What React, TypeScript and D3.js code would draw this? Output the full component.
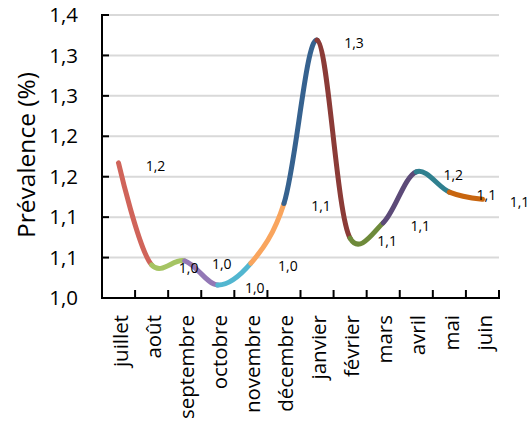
import React from "react";
import * as d3 from "d3";

const months = [
  "juillet", "août", "septembre", "octobre", "novembre", "décembre",
  "janvier", "février", "mars", "avril", "mai", "juin",
];
const prevalence = [1.167, 1.041, 1.046, 1.016, 1.043, 1.117, 1.319, 1.074, 1.093, 1.156, 1.131, 1.122];
const pointLabels = ["1,2", "1,0", "1,0", "1,0", "1,0", "1,1", "1,3", "1,1", "1,1", "1,2", "1,1", "1,1"];
const yTicks = [1.0, 1.05, 1.1, 1.15, 1.2, 1.25, 1.3, 1.35];
const yTickLabels = ["1,0", "1,1", "1,1", "1,2", "1,2", "1,3", "1,3", "1,4"];
// colour of the segment arriving at each month (first month has none)
const segmentColors = [
  "#D0645A", "#A5C463", "#9378B6", "#52B6D0", "#F9A55E",
  "#36628F", "#8B3B37", "#6E8A3A", "#5C4A78", "#2F808F", "#C8650E",
];

const W = 532;
const H = 421;
const left = 102;
const right = 499;
const top = 15;
const bottom = 298;
const font = "'Open Sans', sans-serif";

export default function App() {
  const x = d3.scaleBand<string>().domain(months).range([left, right]);
  const y = d3.scaleLinear().domain([1.0, 1.35]).range([bottom, top]);
  const pts = prevalence.map((v, i) => [x(months[i])! + x.bandwidth() / 2, y(v)] as [number, number]);

  // one smooth curve through all months, cut into its cubic pieces so each can take its own colour
  const full = d3.line().curve(d3.curveCatmullRom.alpha(0.2))(pts) || "";
  const pieces = full.split("C").slice(1);
  const segments = pieces.map((piece, i) => {
    const start = pts[i];
    return { d: `M${start[0]},${start[1]}C${piece}`, color: segmentColors[i] };
  });

  const boundaries = d3.range(months.length + 1).map((k) => left + k * x.step());

  return (
    <svg width={W} height={H} style={{ position: "absolute", left: 0, top: 0 }}>
      <rect width={W} height={H} fill="#fff" />
      {/* gridlines */}
      {yTicks.slice(1).map((t) => (
        <line key={t} x1={left} x2={right} y1={y(t)} y2={y(t)} stroke="#D9D9D9" strokeWidth={2} />
      ))}
      {/* y axis */}
      <line x1={left} x2={left} y1={top - 1} y2={bottom + 1} stroke="#000" strokeWidth={2} />
      {yTicks.map((t, i) => (
        <g key={t}>
          <line x1={left} x2={left + 7} y1={y(t)} y2={y(t)} stroke="#000" strokeWidth={2} />
          <text x={78} y={y(t)} dy="0.35em" textAnchor="end" fontFamily={font} fontSize={20.5} fill="#000">
            {yTickLabels[i]}
          </text>
        </g>
      ))}
      {/* x axis */}
      <line x1={left - 1} x2={right + 1} y1={bottom} y2={bottom} stroke="#000" strokeWidth={2} />
      {boundaries.map((bx, k) => (
        <line key={k} x1={bx} x2={bx} y1={bottom - 8} y2={bottom} stroke="#000" strokeWidth={2} />
      ))}
      {months.map((m) => {
        const cx = x(m)! + x.bandwidth() / 2 + 2;
        return (
          <text
            key={m}
            transform={`translate(${cx},${315}) rotate(-90)`}
            textAnchor="end"
            dy="0.35em"
            fontFamily={font}
            fontSize={20.5}
            fill="#000"
          >
            {m}
          </text>
        );
      })}
      {/* axis title */}
      <text
        transform={`translate(26,${155}) rotate(-90)`}
        textAnchor="middle"
        dy="0.35em"
        fontFamily={font}
        fontSize={24.5}
        fill="#000"
      >
        Prévalence (%)
      </text>
      {/* smoothed line, one colour per month */}
      {segments.map((s, i) => (
        <path key={i} d={s.d} fill="none" stroke={s.color} strokeWidth={5} strokeLinecap="round" />
      ))}
      {/* value labels */}
      {pts.map((p, i) => (
        <text key={i} x={p[0] + 37} y={p[1] + 3} dy="0.35em" textAnchor="middle" fontFamily={font} fontSize={14} fill="#000">
          {pointLabels[i]}
        </text>
      ))}
    </svg>
  );
}
